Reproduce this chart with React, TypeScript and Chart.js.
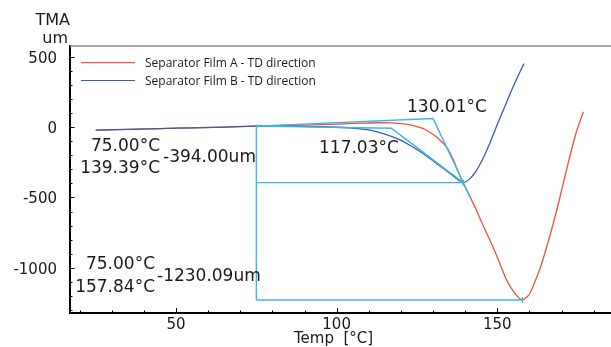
import React, { useEffect, useRef } from 'react';
import { Chart, registerables } from 'chart.js';

Chart.register(...registerables);

// ---- Data ----
const seriesNames = ['Separator Film A - TD direction', 'Separator Film B - TD direction'];

const tempA = [25, 35, 50, 65, 75, 90, 100, 108, 113, 117, 120, 122.8, 125, 127, 129, 131.1, 133, 134.5, 136.3, 137.8, 139.4, 141.2, 143.6, 145.6, 148.7, 150.8, 152.9, 155.5, 157.84, 159.2, 160.2, 161.8, 163.5, 166.6, 169.3, 171.8, 174.5, 176.8];
const tmaA = [-21, -15, -7, 1, 8, 15, 22, 29, 32, 31, 26, 17, 5, -10, -36, -69, -110, -150, -230, -315, -398, -480, -595, -700, -855, -970, -1088, -1183, -1230, -1208, -1182, -1095, -993, -755, -518, -281, -43, 110];

const tempB = [25, 35, 50, 65, 75, 88, 100, 106, 110.4, 114.5, 118.7, 122.8, 126.9, 131.1, 135.3, 137.4, 139.39, 141.5, 143.6, 145.6, 146.7, 147.7, 148.8, 149.8, 151.9, 154.9, 158.3];
const tmaB = [-21, -15, -7, 1, 8, 6, 0, -8, -21, -45, -80, -128, -187, -258, -329, -366, -394, -366, -305, -221, -166, -112, -50, 8, 122, 287, 453];

// analysis annotations
const refTemp = 75.0;
const minB = { t: 139.39, v: -394.0 };
const minA = { t: 157.84, v: -1230.09 };
const onsetA = { t: 130.01, v: 62 };
const onsetB = { t: 117.03, v: -7 };
const baselineStartValue = 8;
const tangentAEnd = { t: 141.5, v: -496 };
const refLineTop = 20;

const xTickValues = [20, 30, 40, 50, 60, 70, 80, 90, 100, 110, 120, 130, 140, 150, 160, 170, 180];
const yTickValues = [-1300, -1200, -1100, -1000, -900, -800, -700, -600, -500, -400, -300, -200, -100, 0, 100, 200, 300, 400, 500];

const RED = '#F0533D';
const BLUE = '#3A5BAA';
const CYAN = '#3DB5E8';
const TEXT = '#1a1a1a';

const pts = (xs: number[], ys: number[]) => xs.map((x, i) => ({ x, y: ys[i] }));

export default function App() {
  const ref = useRef<HTMLCanvasElement>(null);
  useEffect(() => {
    document.body.style.margin = '0';
    const fmtT = (t: number) => `${t.toFixed(2)}°C`;
    const fmtV = (v: number) => `${v.toFixed(2)}um`;

    const overlay = {
      id: 'overlay',
      afterDraw(chart: any) {
        const ctx = chart.ctx as CanvasRenderingContext2D;
        const { left, right, top, bottom } = chart.chartArea;
        const xs = chart.scales.x;
        const ys = chart.scales.y;
        ctx.save();
        // top frame line
        ctx.strokeStyle = '#8a8a8a';
        ctx.lineWidth = 1.6;
        ctx.beginPath();
        ctx.moveTo(left, top);
        ctx.lineTo(right, top);
        ctx.stroke();
        // inward tick marks
        ctx.strokeStyle = '#000';
        ctx.lineWidth = 1;
        xTickValues.forEach((v) => {
          const px = Math.round(xs.getPixelForValue(v)) + 0.5;
          const len = v % 50 === 0 ? 5 : 2.5;
          ctx.beginPath();
          ctx.moveTo(px, bottom);
          ctx.lineTo(px, bottom - len);
          ctx.stroke();
        });
        yTickValues.forEach((v) => {
          const py = Math.round(ys.getPixelForValue(v)) + 0.5;
          const len = v % 500 === 0 ? 4.5 : 2.5;
          ctx.beginPath();
          ctx.moveTo(left, py);
          ctx.lineTo(left + len, py);
          ctx.stroke();
        });
        // legend
        const legendItems = [
          { name: seriesNames[0], color: RED, y: 62.7 },
          { name: seriesNames[1], color: BLUE, y: 80.5 },
        ];
        ctx.font = '12px "Open Sans"';
        ctx.textBaseline = 'middle';
        ctx.textAlign = 'left';
        legendItems.forEach((it) => {
          ctx.strokeStyle = it.color;
          ctx.lineWidth = 1.2;
          ctx.beginPath();
          ctx.moveTo(81, it.y);
          ctx.lineTo(135, it.y);
          ctx.stroke();
          ctx.fillStyle = TEXT;
          ctx.fillText(it.name, 145, it.y + 1);
        });
        // axis titles
        ctx.fillStyle = TEXT;
        ctx.textBaseline = 'alphabetic';
        ctx.font = '16px "DejaVu Sans"';
        ctx.textAlign = 'right';
        ctx.fillText('TMA', 70, 25);
        ctx.fillText('um', 68, 43);
        ctx.font = '15px "DejaVu Sans"';
        ctx.textAlign = 'left';
        ctx.fillText('Temp  [°C]', 294, 343);
        // annotation labels
        ctx.font = '17px "DejaVu Sans"';
        ctx.textAlign = 'left';
        ctx.fillText(fmtT(onsetA.t), 407, 111.7);
        ctx.fillText(fmtT(onsetB.t), 319, 153.3);
        ctx.fillText(fmtV(minB.v), 163, 161.7);
        ctx.fillText(fmtV(minA.v), 157, 280.7);
        ctx.textAlign = 'right';
        ctx.fillText(fmtT(refTemp), 160, 151);
        ctx.fillText(fmtT(minB.t), 160, 173.3);
        ctx.fillText(fmtT(refTemp), 155, 269.3);
        ctx.fillText(fmtT(minA.t), 155, 291.7);
        ctx.restore();
      },
    };

    const annot = (data: { x: number; y: number }[]) => ({
      data,
      borderColor: CYAN,
      borderWidth: 1.4,
      pointRadius: 0,
      tension: 0,
      order: 0,
    });

    const chart = new Chart(ref.current!, {
      type: 'line',
      data: {
        datasets: [
          {
            label: seriesNames[0],
            data: pts(tempA, tmaA),
            borderColor: RED,
            borderWidth: 1.3,
            pointRadius: 0,
            cubicInterpolationMode: 'monotone',
            order: 2,
          },
          {
            label: seriesNames[1],
            data: pts(tempB, tmaB),
            borderColor: BLUE,
            borderWidth: 1.3,
            pointRadius: 0,
            cubicInterpolationMode: 'monotone',
            order: 1,
          },
          annot([{ x: refTemp, y: refLineTop }, { x: refTemp, y: minA.v }]),
          annot([{ x: refTemp, y: minB.v }, { x: minB.t, y: minB.v }]),
          annot([{ x: refTemp, y: minA.v }, { x: minA.t, y: minA.v }]),
          annot([{ x: refTemp, y: baselineStartValue }, { x: onsetA.t, y: onsetA.v }, { x: tangentAEnd.t, y: tangentAEnd.v }]),
          annot([{ x: refTemp, y: baselineStartValue }, { x: onsetB.t, y: onsetB.v }, { x: minB.t, y: minB.v }]),
          annot([{ x: minA.t, y: minA.v + 22 }, { x: minA.t, y: minA.v - 22 }]),
          annot([{ x: minB.t, y: minB.v + 22 }, { x: minB.t, y: minB.v - 22 }]),
        ] as any,
      },
      options: {
        animation: false,
        responsive: false,
        events: [],
        layout: { padding: { top: 46, left: 0, right: 0, bottom: 0 } },
        plugins: { legend: { display: false }, tooltip: { enabled: false } },
        scales: {
          x: {
            type: 'linear',
            position: 'bottom',
            min: 17.0,
            max: 185.4,
            afterBuildTicks: (s: any) => {
              s.ticks = xTickValues.map((value) => ({ value }));
            },
            afterFit: (s: any) => {
              s.height = 34;
            },
            grid: { display: false, drawTicks: false },
            border: { display: true, color: '#000', width: 2 },
            ticks: {
              autoSkip: false,
              maxRotation: 0,
              padding: 3,
              color: TEXT,
              font: { family: 'DejaVu Sans', size: 15 },
              callback: (v: any) => (Number(v) % 50 === 0 ? String(v) : ''),
            },
          },
          y: {
            type: 'linear',
            min: -1322.5,
            max: 578.3,
            afterBuildTicks: (s: any) => {
              s.ticks = yTickValues.map((value) => ({ value }));
            },
            afterFit: (s: any) => {
              s.width = 70;
            },
            grid: { display: false, drawTicks: false },
            border: { display: true, color: '#000', width: 2 },
            ticks: {
              autoSkip: false,
              padding: 13,
              labelOffset: 2,
              color: TEXT,
              font: { family: 'DejaVu Sans', size: 15 },
              callback: (v: any) => (Number(v) % 500 === 0 ? String(v) : ''),
            },
          },
        },
      } as any,
      plugins: [overlay],
    });
    return () => chart.destroy();
  }, []);
  return (
    <div style={{ position: 'relative', width: 611, height: 347 }}>
      <canvas ref={ref} width={611} height={347} style={{ display: 'block' }} />
    </div>
  );
}
